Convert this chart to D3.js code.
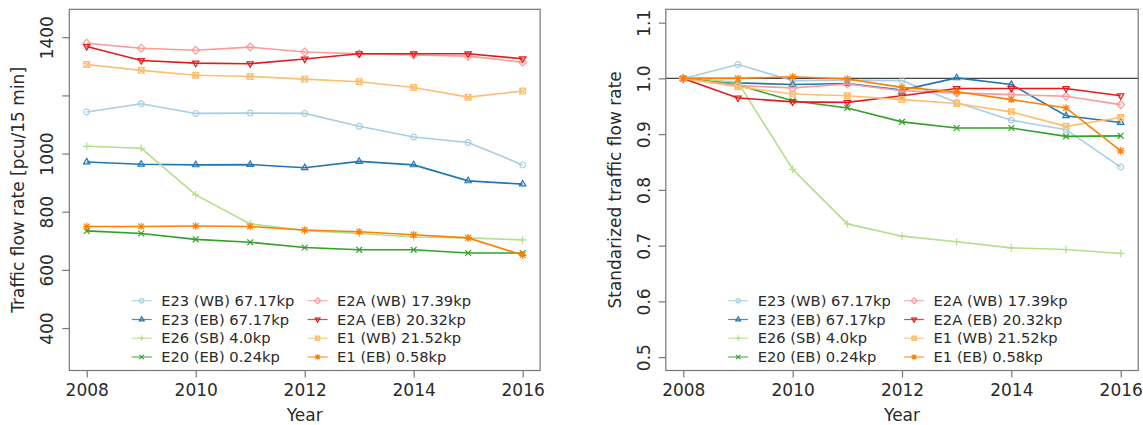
<!DOCTYPE html>
<html>
<head>
<meta charset="utf-8">
<script src="https://cdn.jsdelivr.net/npm/d3@7"></script>
<style>
  body { margin: 0; background: #fff; }
  text { font-family: "DejaVu Sans", sans-serif; fill: #2a2a2a; }
</style>
</head>
<body>
<script>
// data
const years = [2008, 2009, 2010, 2011, 2012, 2013, 2014, 2015, 2016]
const labels = ["E23 (WB) 67.17kp", "E23 (EB) 67.17kp", "E26 (SB) 4.0kp", "E20 (EB) 0.24kp",
                "E2A (WB) 17.39kp", "E2A (EB) 20.32kp", "E1 (WB) 21.52kp", "E1 (EB) 0.58kp"]
const colors = ["#a6cee3", "#1f78b4", "#b2df8a", "#33a02c", "#fb9a99", "#e31a1c", "#fdbf6f", "#ff7f00"]
const shapes = ["circle", "triUp", "plus", "cross", "diamond", "triDown", "boxX", "star"]

// traffic flow rate [pcu/15 min]
const e23wb = [1143, 1171, 1138, 1139, 1138, 1094, 1057, 1038, 961]
const e23eb = [971, 963, 961, 962, 951, 973, 961, 906, 895]
const e26sb = [1025, 1018, 858, 758, 735, 725, 713, 710, 703]
const e20eb = [734, 725, 705, 695, 677, 669, 669, 658, 658]
const e2awb = [1379, 1362, 1355, 1366, 1349, 1343, 1339, 1335, 1314]
const e2aeb = [1368, 1320, 1311, 1309, 1325, 1343, 1343, 1343, 1326]
const e1wb  = [1306, 1286, 1269, 1265, 1256, 1247, 1227, 1194, 1215]
const e1eb  = [749, 749, 751, 749, 737, 731, 721, 710, 651]

// standardized traffic flow rate
const s_e23wb = [1, 1.025, 0.996, 0.997, 0.996, 0.957, 0.925, 0.908, 0.841]
const s_e23eb = [1, 0.992, 0.989, 0.991, 0.979, 1.001, 0.989, 0.933, 0.921]
const s_e26sb = [1, 0.993, 0.837, 0.739, 0.717, 0.707, 0.696, 0.693, 0.686]
const s_e20eb = [1, 0.988, 0.960, 0.947, 0.922, 0.911, 0.911, 0.896, 0.897]
const s_e2awb = [1, 0.987, 0.983, 0.990, 0.978, 0.974, 0.971, 0.968, 0.953]
const s_e2aeb = [1, 0.965, 0.958, 0.957, 0.969, 0.982, 0.982, 0.982, 0.969]
const s_e1wb  = [1, 0.985, 0.972, 0.969, 0.962, 0.955, 0.940, 0.914, 0.930]
const s_e1eb  = [1, 1.000, 1.003, 0.999, 0.984, 0.976, 0.962, 0.947, 0.870]

const flowTicks = [400, 600, 800, 1000, 1200, 1400]
const stdTicks = [0.5, 0.6, 0.7, 0.8, 0.9, 1.0, 1.1]
const yearTicks = [2008, 2010, 2012, 2014, 2016]

const flow = [e23wb, e23eb, e26sb, e20eb, e2awb, e2aeb, e1wb, e1eb]
const std = [s_e23wb, s_e23eb, s_e26sb, s_e20eb, s_e2awb, s_e2aeb, s_e1wb, s_e1eb]

const W = 1143, H = 425
const svg = d3.select("body").append("svg").attr("width", W).attr("height", H)

// R-like plotting symbols
function symbol(g, shape, x, y, color, s) {
  const m = g.append("g").attr("transform", `translate(${x},${y})`)
    .attr("fill", "none").attr("stroke", color).attr("stroke-width", 1.2)
  const p = d3.path()
  if (shape === "circle") { m.append("circle").attr("r", s); return }
  if (shape === "triUp") {
    p.moveTo(0, -s * 1.25); p.lineTo(s * 1.1, s * 0.65); p.lineTo(-s * 1.1, s * 0.65); p.closePath()
  } else if (shape === "triDown") {
    p.moveTo(0, s * 1.25); p.lineTo(s * 1.1, -s * 0.65); p.lineTo(-s * 1.1, -s * 0.65); p.closePath()
  } else if (shape === "plus") {
    p.moveTo(-s * 1.3, 0); p.lineTo(s * 1.3, 0); p.moveTo(0, -s * 1.3); p.lineTo(0, s * 1.3)
  } else if (shape === "cross") {
    p.moveTo(-s, -s); p.lineTo(s, s); p.moveTo(-s, s); p.lineTo(s, -s)
  } else if (shape === "diamond") {
    p.moveTo(0, -s * 1.35); p.lineTo(s * 1.35, 0); p.lineTo(0, s * 1.35); p.lineTo(-s * 1.35, 0); p.closePath()
  } else if (shape === "boxX") {
    p.rect(-s, -s, 2 * s, 2 * s)
    p.moveTo(-s, -s); p.lineTo(s, s); p.moveTo(-s, s); p.lineTo(s, -s)
  } else if (shape === "star") {
    p.moveTo(-s * 1.3, 0); p.lineTo(s * 1.3, 0); p.moveTo(0, -s * 1.3); p.lineTo(0, s * 1.3)
    p.moveTo(-s, -s); p.lineTo(s, s); p.moveTo(-s, s); p.lineTo(s, -s)
  }
  m.append("path").attr("d", p.toString())
}

function panel(o) {
  const x = d3.scaleLinear().domain([2007.68, 2016.32]).range([o.left, o.right])
  const y = d3.scaleLinear().domain(o.ydom).range([370.5, 9.3])
  const g = svg.append("g")

  // reference line
  if (o.refLine) {
    g.append("line")
      .attr("x1", o.left).attr("x2", o.right)
      .attr("y1", y(o.refLine)).attr("y2", y(o.refLine))
      .attr("stroke", "#444").attr("stroke-width", 1.2)
  }

  // series
  const line = d3.line().x((d, i) => x(years[i])).y(d => y(d))
  o.data.forEach((vals, k) => {
    g.append("path").datum(vals)
      .attr("d", line)
      .attr("fill", "none")
      .attr("stroke", colors[k])
      .attr("stroke-width", 1.6)
    vals.forEach((v, i) => symbol(g, shapes[k], x(years[i]), y(v), colors[k], 2.9))
  })

  // box
  g.append("rect")
    .attr("x", o.left).attr("y", 9.3)
    .attr("width", o.right - o.left).attr("height", 370.5 - 9.3)
    .attr("fill", "none").attr("stroke", "#777").attr("stroke-width", 1.2)

  // x axis
  const xa = g.append("g").attr("transform", "translate(0,370.5)")
    .call(d3.axisBottom(x).tickValues(yearTicks).tickFormat(d3.format("d")).tickSize(7).tickPadding(0))
  xa.select(".domain").remove()
  xa.selectAll(".tick line").attr("stroke", "#777").attr("stroke-width", 1.2)
  xa.selectAll(".tick text").attr("y", 25.5).attr("dy", null)
    .style("font-size", "17px").style("fill", "#2a2a2a")

  // y axis
  const ya = g.append("g").attr("transform", `translate(${o.left},0)`)
    .call(d3.axisLeft(y).tickValues(o.yticks).tickFormat(o.yfmt).tickSize(7))
  ya.select(".domain").remove()
  ya.selectAll(".tick line").attr("stroke", "#777").attr("stroke-width", 1.2)
  ya.selectAll(".tick text")
    .attr("x", null).attr("dy", null)
    .attr("text-anchor", "middle")
    .attr("transform", "translate(-16,0) rotate(-90)")
    .style("font-size", "17px").style("fill", "#2a2a2a")

  // titles
  g.append("text")
    .attr("x", (o.left + o.right) / 2).attr("y", 421)
    .attr("text-anchor", "middle").style("font-size", "17px")
    .text("Year")
  g.append("text")
    .attr("transform", `translate(${o.left - 45},${(9.3 + 370.5) / 2}) rotate(-90)`)
    .attr("text-anchor", "middle").style("font-size", "17px")
    .text(o.ytitle)

  // legend, two columns of four
  const rowY = [300.7, 319.5, 338.2, 357]
  labels.forEach((lab, k) => {
    const col = Math.floor(k / 4), row = k % 4
    const sx = o.left + (col === 0 ? 72.4 : 248.3)
    const ly = rowY[row]
    g.append("line")
      .attr("x1", sx - 10).attr("x2", sx + 10)
      .attr("y1", ly).attr("y2", ly)
      .attr("stroke", colors[k]).attr("stroke-width", 1.2).attr("opacity", 0.8)
    symbol(g, shapes[k], sx, ly, colors[k], 2.2)
    g.append("text")
      .attr("x", sx + 19.5).attr("y", ly)
      .attr("dy", "0.36em")
      .style("font-size", "14.7px")
      .text(lab)
  })
}

panel({
  left: 69.3, right: 540.1,
  ydom: [254, 1496],
  yticks: flowTicks,
  yfmt: d => d === 1200 ? "" : d,
  ytitle: "Traffic flow rate [pcu/15 min]",
  data: flow
})

panel({
  left: 665.8, right: 1138.2,
  ydom: [0.476, 1.124],
  yticks: stdTicks,
  yfmt: d3.format(".1f"),
  ytitle: "Standarized traffic flow rate",
  refLine: 1.0,
  data: std
})
</script>
</body>
</html>
